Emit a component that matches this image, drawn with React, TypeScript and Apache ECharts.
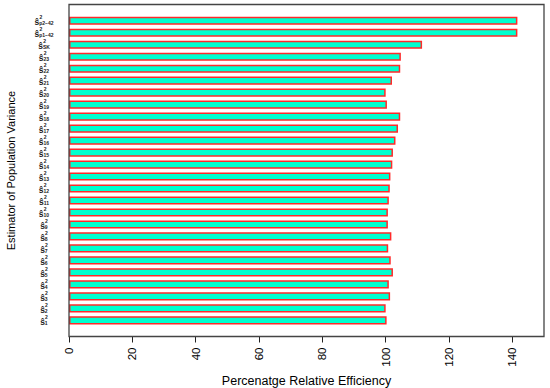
import React, { useEffect, useRef } from "react";
import * as echarts from "echarts";

// bottom-to-top order (ECharts category y axis runs upward)
const subscripts = [
  "1", "2", "3", "4", "5", "6", "7", "8", "9", "10", "11", "12", "13", "14",
  "15", "16", "17", "18", "19", "20", "21", "22", "23", "SK", "p1−42", "p2−42",
];
const efficiency = [
  100.3, 100.0, 101.4, 101.0, 102.3, 101.6, 100.8, 101.8, 100.7, 100.7, 101.0,
  101.3, 101.5, 102.1, 102.3, 103.1, 103.9, 104.6, 100.4, 100.0, 102.0, 104.6,
  104.8, 111.5, 141.6, 141.6,
];
const xTicks = [0, 20, 40, 60, 80, 100, 120, 140];
const xTitle = "Percenatge Relative Efficiency";
const yTitle = "Estimator of Population Variance";

const FONT = "Liberation Sans, Arial, sans-serif";

export default function App() {
  const ref = useRef<HTMLDivElement>(null);
  useEffect(() => {
    if (!ref.current) return;
    const chart = echarts.init(ref.current, null, { renderer: "svg" });
    const gridLeft = 69, gridRight = 6, gridTop = 14.8, gridBottom = 61.7;
    const boxTop = 4.5, boxBottom = 336.5;
    chart.setOption({
      animation: false,
      backgroundColor: "#ffffff",
      grid: {
        left: gridLeft, right: gridRight, top: gridTop, bottom: gridBottom,
        containLabel: false,
        outerBoundsMode: "none",
      },
      xAxis: {
        type: "value",
        min: 0,
        max: 150,
        interval: 20,
        offset: boxBottom - (388 - gridBottom),
        splitLine: { show: false },
        axisLine: { show: false },
        axisTick: { show: true, length: 6, customValues: xTicks, lineStyle: { color: "#222", width: 1 } },
        axisLabel: {
          customValues: xTicks,
          rotate: 90,
          margin: 11,
          fontSize: 11.5,
          fontFamily: FONT,
          color: "#000",
        },
        name: xTitle,
        nameLocation: "middle",
        nameGap: 35,
        nameTextStyle: { fontSize: 12.5, fontFamily: FONT, color: "#000" },
      },
      yAxis: {
        type: "category",
        data: subscripts,
        axisLine: { show: false },
        axisTick: { show: false },
        axisLabel: {
          interval: 0,
          margin: 25,
          align: "center",
          formatter: (v: string) => `{sup|2}\n{s|ŝ}{sub|${v}}`,
          rich: {
            s: { fontSize: 8.5, fontFamily: FONT, fontWeight: "bold", color: "#222", align: "left", lineHeight: 7 },
            sup: { fontSize: 5, fontFamily: FONT, fontWeight: "bold", color: "#222", align: "left", lineHeight: 3, padding: [0, 0, 0, 5] },
            sub: { fontSize: 5, fontFamily: FONT, fontWeight: "bold", color: "#222", align: "left", lineHeight: 5, verticalAlign: "bottom", padding: [2, 0, 0, 0] },
          },
        },
        name: yTitle,
        nameLocation: "middle",
        nameGap: 53,
        nameTextStyle: { fontSize: 11, fontFamily: FONT, color: "#000" },
      },
      series: [
        {
          type: "bar",
          data: efficiency,
          barCategoryGap: "32%",
          itemStyle: { color: "#00ffcf", borderColor: "#ff2a2a", borderWidth: 1.5 },
          silent: true,
        },
      ],
      graphic: [
        {
          type: "rect",
          shape: { x: gridLeft, y: boxTop, width: 550 - gridRight - gridLeft, height: boxBottom - boxTop },
          style: { fill: "none", stroke: "#444", lineWidth: 1.3 },
          z: 10,
        },
      ],
    });
    return () => chart.dispose();
  }, []);
  return <div ref={ref} style={{ width: 550, height: 388, position: "absolute", left: 0, top: 0 }} />;
}
